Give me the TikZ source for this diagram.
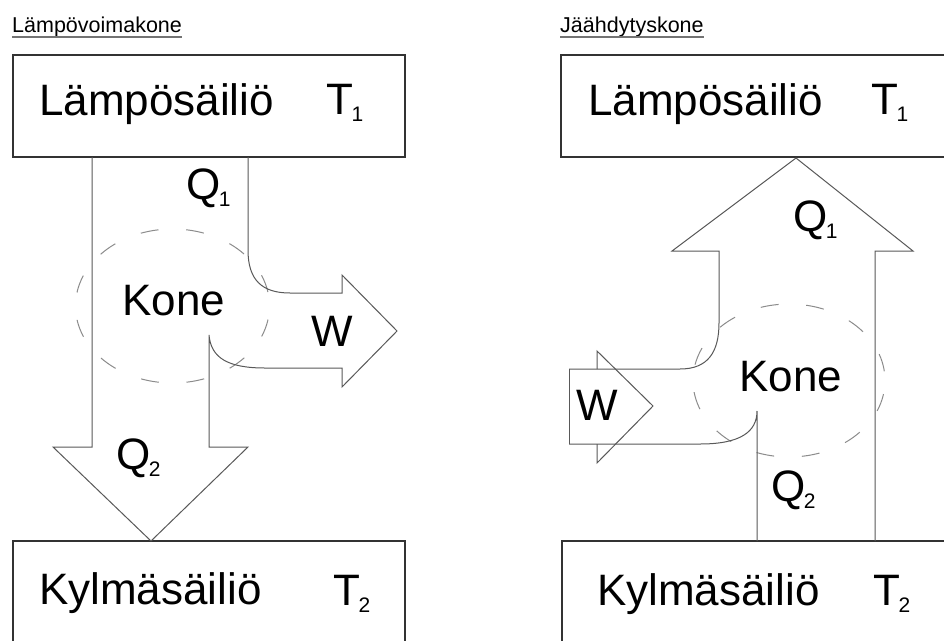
\documentclass[tikz,border=0pt]{standalone}
\usepackage{fontspec}
\setmainfont{Liberation Sans}
% symbol with a small lowered index, e.g. T_1 or Q_2
\newcommand\symidx[2]{#1\kern-1.5pt\raisebox{-7pt}{\fontsize{21}{21}\selectfont #2}}
\begin{document}
\begin{tikzpicture}[x=1pt,y=-1pt,
  box/.style={draw=black!80, line width=1.3pt},
  flow/.style={draw=black!65, line width=1pt, line join=miter},
  engine/.style={draw=black!45, line width=1pt, dash pattern=on 18pt off 27.7pt, dash phase=32pt},
  lbl/.style={font=\fontsize{44}{44}\selectfont, inner sep=0pt, anchor=base west},
  heading/.style={font=\fontsize{21.5}{21.5}\selectfont, inner sep=0pt, anchor=base west},
  uline/.style={draw=black!55, line width=1.5pt},
]
\clip (0,0) rectangle (944,640);
\fill[white] (0,0) rectangle (944,640);

% ---------- heat engine ----------
\node[heading] (hA) at (12,32) {Lämpövoimakone};
\draw[uline] ([yshift=-5pt]hA.base west) -- ([yshift=-5pt]hA.base east);

\draw[box] (13,55) rectangle (405,157);
\draw[box] (13,541) rectangle (405,700);

% engine circle
\draw[engine] (172.5,306) ellipse [x radius=97, y radius=77];

% heat flow Q1 in, Q2 out, work W out
\draw[flow] (92,157) -- (92,447) -- (53,447) -- (151,541) -- (248,447) -- (209,447) -- (209,335)
  .. controls (211,358) and (228,368) .. (265,368) -- (342,368) -- (342,387) -- (397,331)
  -- (342,275) -- (342,293) -- (290,293)
  .. controls (262,293) and (248,280) .. (248,250) -- (248,157);

\node[lbl] (hotA) at (39,115) {Lämpösäiliö};
\node[lbl] (tA1) at (326,114) {\symidx{T}{1}};
\node[lbl] (qA1) at (186,199) {\symidx{Q}{1}};
\node[lbl] (koneA) at (122,315) {Kone};
\node[lbl] (wA) at (311,346) {W};
\node[lbl] (qA2) at (116,469) {\symidx{Q}{2}};
\node[lbl] (coldA) at (39,604) {Kylmäsäiliö};
\node[lbl] (tA2) at (333,605) {\symidx{T}{2}};

% ---------- refrigerator ----------
\node[heading] (hB) at (560,32) {Jäähdytyskone};
\draw[uline] ([yshift=-5pt]hB.base west) -- ([yshift=-5pt]hB.base east);

\draw[box] (561,55) rectangle (1000,157);
\draw[box] (562,541) rectangle (1000,700);

\draw[engine] (789,380.5) ellipse [x radius=96, y radius=76.5];

% work W in
\draw[flow] (569,369) -- (569,444);
\draw[flow] (597,369) -- (597,351) -- (653,406) -- (597,463) -- (597,444);
% heat Q2 in from below, Q1 out to the top
\draw[flow] (569,369) -- (680,369)
  .. controls (708,369) and (719,352) .. (719,323) -- (719,251) -- (672,251) -- (796,158)
  -- (913,251) -- (875,251) -- (875,541);
\draw[flow] (569,444) -- (700,444)
  .. controls (740,444) and (757,432) .. (757,411) -- (757,541);

\node[lbl] (hotB) at (588,115) {Lämpösäiliö};
\node[lbl] (tB1) at (871,114) {\symidx{T}{1}};
\node[lbl] (qB1) at (793,231) {\symidx{Q}{1}};
\node[lbl] (koneB) at (739,391) {Kone};
\node[lbl] (wB) at (576,420) {W};
\node[lbl] (qB2) at (771,501) {\symidx{Q}{2}};
\node[lbl] (coldB) at (597,605) {Kylmäsäiliö};
\node[lbl] (tB2) at (873,605) {\symidx{T}{2}};
\end{tikzpicture}
\end{document}
